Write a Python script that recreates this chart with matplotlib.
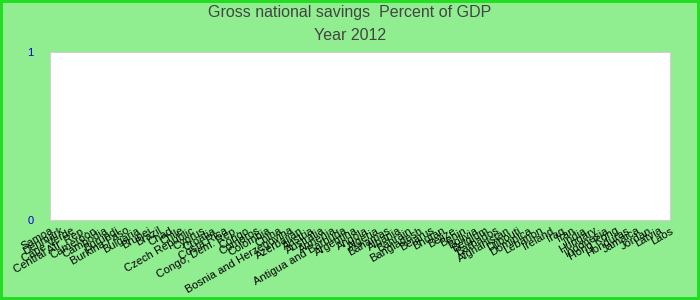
import matplotlib
import matplotlib.pyplot as plt

matplotlib.use('Agg')
plt.rcParams['font.family'] = ['Liberation Sans', 'DejaVu Sans']

countries = [
    'Samoa', 'Denmark', 'Cape Verde', 'Central Afr. Rep.', 'Cameroon',
    'Cambodia', 'Burundi', 'Burkina Faso', 'Bulgaria', 'Brunei', 'Brazil',
    'Chad', 'Chile', 'Czech Republic', 'Cyprus', 'Croatia', 'Costa Rica',
    'Congo, Dem. Rep.', 'Congo', 'Comoros', 'Colombia', 'China',
    'Bosnia and Herzegovina', 'Azerbaijan', 'Austria', 'Australia', 'Armenia',
    'Antigua and Barbuda', 'Argentina', 'Angola', 'Algeria', 'Bahamas',
    'Albania', 'Bahrain', 'Bangladesh', 'Belarus', 'Bhutan', 'Belize', 'Benin',
    'Bolivia', 'Belgium', 'Barbados', 'Afghanistan', 'Djibouti', 'Dominica',
    'Lebanon', 'Ireland', 'Iraq', 'Iran', 'India', 'Hungary', 'Indonesia',
    'Hong Kong', 'Honduras', 'Jamaica', 'Jordan', 'Latvia', 'Laos',
]
# no values reported for 2012 -> every bar is zero
savings = [
    0, 0, 0, 0, 0, 0, 0, 0, 0, 0, 0, 0, 0, 0, 0, 0, 0, 0, 0, 0,
    0, 0, 0, 0, 0, 0, 0, 0, 0, 0, 0, 0, 0, 0, 0, 0, 0, 0, 0, 0,
    0, 0, 0, 0, 0, 0, 0, 0, 0, 0, 0, 0, 0, 0, 0, 0, 0, 0,
]
y_ticks = [0, 1]

fig = plt.figure(figsize=(7, 3), dpi=100)
fig.patch.set_facecolor('#90ee90')
fig.patch.set_edgecolor('#22dd22')
fig.patch.set_linewidth(3)

ax = fig.add_axes([50 / 700, 1 - 220 / 300, 620 / 700, 168 / 300])
ax.set_facecolor('white')
positions = list(range(len(countries)))
ax.bar(positions, savings, width=0.8, color='#3366cc')

ax.set_xlim(0, len(countries) - 1)
ax.set_ylim(0, 1)
ax.set_yticks(y_ticks)
ax.set_yticklabels([str(v) for v in y_ticks], color='#0000cc', fontsize=8)
ax.tick_params(axis='y', length=0, pad=12)
ax.set_xticks(positions)
ax.set_xticklabels(countries, rotation=30, ha='right', rotation_mode='anchor', fontsize=8)
ax.tick_params(axis='x', length=0, pad=4)
for s in ax.spines.values():
    s.set_color('#d0d0d0')

fig.text(0.5, 1 - 13 / 300, 'Gross national savings  Percent of GDP', ha='center', va='center',
         fontsize=11.5, color='#444444')
fig.text(0.5, 1 - 36 / 300, 'Year 2012', ha='center', va='center', fontsize=11.5, color='#444444')

fig.savefig('out.png', dpi=100, facecolor=fig.get_facecolor(), edgecolor=fig.get_edgecolor())
